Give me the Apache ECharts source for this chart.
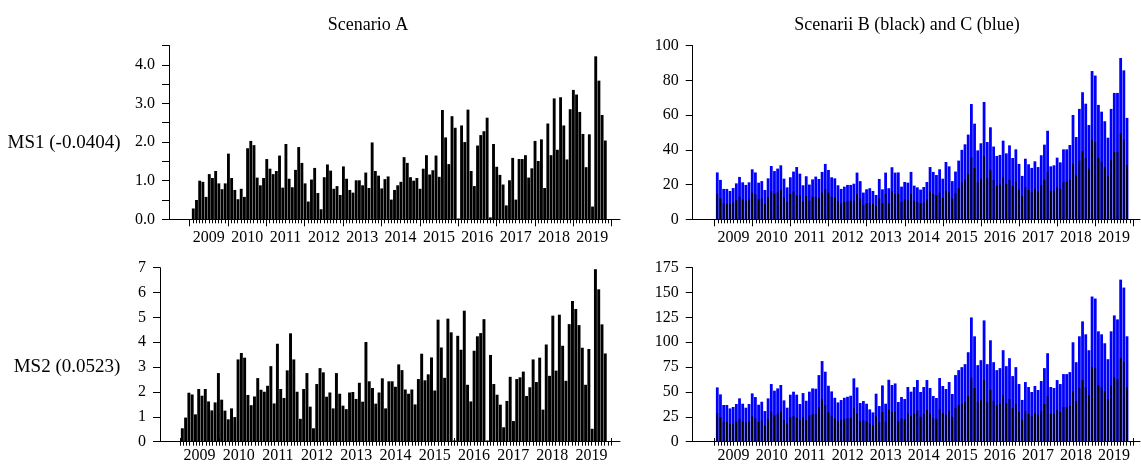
<!DOCTYPE html>
<html><head><meta charset="utf-8">
<script src="https://cdn.jsdelivr.net/npm/echarts@6/dist/echarts.min.js"></script>
<style>html,body{margin:0;padding:0;background:#fff}#c{width:1141px;height:464px}</style>
</head><body><div id="c"></div>
<script>
const years = ['2009','2010','2011','2012','2013','2014','2015','2016','2017','2018','2019'];
const months = [];
for (let i = 0; i < 130; i++) { months.push(years[Math.floor(i / 12)] + '-' + String(i % 12 + 1).padStart(2, '0')); }
const allMonths = [];
for (let i = 0; i < years.length * 12; i++) { allMonths.push(years[Math.floor(i / 12)] + '-' + String(i % 12 + 1).padStart(2, '0')); }

const scenA_MS1 = [0.28,0.5,1.0,0.97,0.58,1.17,1.07,1.25,0.93,0.78,
0.93,1.7,1.07,0.76,0.52,0.79,0.58,1.84,2.03,1.92,
1.08,0.88,1.07,1.56,1.31,1.17,1.25,1.65,0.82,1.95,
1.05,0.83,1.28,1.87,1.46,0.93,0.46,1.03,1.33,0.68,
0.26,1.09,1.42,1.26,0.79,0.86,0.63,1.37,1.05,0.76,
0.69,1.01,1.01,0.88,1.21,0.81,1.99,1.25,1.13,0.80,
1.04,1.11,0.51,0.76,0.88,0.97,1.61,1.46,1.09,1.0,
1.07,0.79,1.31,1.66,1.16,1.27,1.65,1.1,2.83,2.12,
1.43,2.67,2.37,0.02,2.43,2.0,2.84,1.25,0.86,1.91,
2.18,2.28,2.63,0.05,1.95,1.36,1.15,0.9,0.36,1.01,
1.59,0.51,1.56,1.56,1.66,1.08,1.32,2.03,1.51,2.07,
0.81,2.48,1.66,3.13,1.8,3.16,2.43,1.55,2.85,3.35,
3.23,2.78,2.21,1.35,2.2,0.33,4.22,3.59,2.7,2.04];

const scenA_MS2 = [0.54,0.97,1.97,1.9,1.1,2.12,1.85,2.12,1.62,1.26,
1.58,2.76,1.69,1.25,0.9,1.34,0.99,3.31,3.57,3.38,
1.88,1.47,1.82,2.56,2.09,2.01,2.25,3.04,1.54,3.94,
2.12,1.76,2.87,4.36,3.31,2.01,0.92,2.12,2.76,1.41,
0.54,2.32,2.96,2.79,1.81,1.98,1.34,2.76,1.93,1.45,
1.31,1.98,2.0,1.72,2.37,1.61,4.01,2.43,2.16,1.53,
1.98,2.55,1.34,2.43,2.43,2.21,3.11,2.88,2.1,1.93,
2.1,1.5,2.52,3.54,2.47,2.71,3.39,2.06,4.91,3.79,
2.57,4.95,4.4,0.05,4.26,3.7,5.27,2.29,1.62,3.66,
4.24,4.37,4.93,0.05,3.49,2.32,1.89,1.49,0.58,1.64,
2.61,0.83,2.52,2.59,2.82,1.84,2.19,3.31,2.4,3.38,
1.29,3.91,2.65,5.07,2.86,5.11,3.86,2.45,4.73,5.66,
5.34,4.69,3.78,2.29,3.73,0.52,6.94,6.13,4.72,3.55];

const scenB_MS1 = [14.6,12,9.2,9.2,8.8,9.8,11,13,11.5,10.8,
11.5,15.4,14.4,11.5,12,9,12.7,16.3,15,15.6,
16.9,12.7,10,14.6,16,14,14,10.4,13.4,10.8,
13,13,12.3,15.4,17.5,15.4,13,12.7,10.4,9.2,
10,10.4,10.8,10.8,14.6,12,8.4,9.4,9.4,8.8,
7.7,12.1,9.4,14.6,9.4,16,14.6,14.6,10,11.5,
11.1,14.6,10.8,10,9.2,9.6,11.5,16,14.6,14,
15.4,12.3,16.5,15.7,12,15,18,21.1,23,26,
35.7,29.6,21.3,23.4,36.3,23.8,28.6,22.7,19.6,20,
24.6,20.4,22.7,19.2,21.5,17.1,13.4,18.6,16.9,15.7,
17.7,16,19.8,22.8,27.3,16.5,16.5,18.8,17.7,21.5,
21.7,22.7,32,25.2,33.8,39.2,35.3,29.2,45.7,44.5,
35.3,33,30.1,25,34.2,38.8,38.8,49.7,46.1,31.3];

const scenC_MS1 = [27,22.7,17.5,17.5,16.3,18,20.7,24.4,21.3,19.8,
21.3,28.8,27,21.1,22,16.9,23.6,30.7,27.8,29.2,
31.1,23.4,18.4,24.2,27.5,30.1,26.3,19.6,24.8,20,
23,24.6,23.2,27.3,31.9,28.4,24.2,23.6,19.6,17.5,
18.8,19.8,19.8,20.5,26.9,22,15.4,17.3,17.9,16.3,
14,23.2,17.3,26.9,17.9,30,26.9,27,18.8,21.5,
21.1,27.3,19.4,18.4,17.1,18.6,21.5,30.1,27.3,25.5,
28.8,23.4,33,30.5,22,27.5,33.8,40,43.2,48.8,
66.4,55.1,39.7,43.8,67.6,44.5,53,41.9,36.5,37.1,
45.3,38,42.6,35.3,40.3,31.9,25,34.9,31.7,29.6,
33.4,30.1,36.9,43,51,30.5,31.1,35.5,32.8,40.3,
40.3,42.8,60.1,47.4,63.6,73.2,66.6,54.3,85.4,82.8,
65.9,62,56.5,47,63.6,72.8,72.8,92.9,85.8,58.4];

const scenB_MS2 = [28.8,24.8,20.1,20.1,18.1,18.1,20.8,23.1,20.8,19.4,
20.8,25.5,23.5,19.8,21.4,16.1,23.1,30.8,26.5,28.2,
30.2,21.8,18.4,24.8,25.8,24.1,21.8,25.1,21.8,26.5,
27.5,28.2,34.9,42.9,36.9,29.5,26.1,23.5,20.8,22.1,
22.8,23.5,24.1,33.8,28.5,20.8,21.4,20.4,18.1,16.8,
25.5,19.4,29.8,20.1,32.2,29.8,30.2,20.8,23.5,22.8,
28.5,26.1,28.5,31.5,25,28,32,28,24,23,
33,29,27,31,25,34,37,38,40,46,
64,54,40,42,62,40,52,41,37,38,
47,39,43,34,38,30,22,31,28,26,
29,27,31,38,46,28,28,32,30,35,
35,36,51,41,54,62,55,47,75,74,
57,55,51,43,57,65,63,84,80,55];

const scenC_MS2 = [54.6,47.6,36.9,36.9,33.5,34.9,37.9,43.6,38.2,34.2,
37.9,48.6,44.9,37.2,40.2,30.8,43.6,58,51.3,53.6,
57,41.6,34.2,47.3,50.3,47.3,37.9,48.9,41.2,50.3,
53.6,53.3,67,81.1,70.4,56.3,50.6,44.2,39.5,41.9,
44.2,45.2,46.2,63.7,54.6,38.9,40.9,38.2,32.5,29.5,
48.3,35.9,56.6,38.2,62.3,57,58.6,39.9,44.9,42.9,
55,50.3,55,62,50,55,62,54,46,44,
64,56,53,60,48,67,72,75,78,90,
125,106,77,82,122,78,102,80,72,74,
92,76,84,66,75,58,42,60,55,50,
56,52,61,74,89,55,54,62,58,68,
68,70,100,80,106,121,108,92,146,144,
111,108,99,83,111,127,123,163,155,106];

const FONT = '"Liberation Serif", "Times New Roman", serif';
const txt = { fontFamily: FONT, color: '#000', fontSize: 16 };

const panels = [
  { yx: 169, xEnd: 620, barL: 191.7, barR: 606.9, yrL: 189.7, yrR: 611.5, top: 45.5, bot: 219.3,
    max: 4.5, interval: 0.5, fmt: v => (Math.abs(v - Math.round(v)) < 1e-9 ? v.toFixed(1) : ''),
    series: [{ data: scenA_MS1, color: '#000', width: '90%' }] },
  { yx: 160, xEnd: 620, barL: 180.7, barR: 606.9, yrL: 179.8, yrR: 611.2, top: 267.7, bot: 441.7,
    max: 7, interval: 1, fmt: v => String(v),
    series: [{ data: scenA_MS2, color: '#000', width: '90%' }] },
  { yx: 692.7, xEnd: 1140, barL: 715.7, barR: 1128.6, yrL: 714.6, yrR: 1133, top: 45.7, bot: 219.3,
    max: 100, interval: 20, fmt: v => String(v),
    series: [{ data: scenC_MS1, color: '#0000ff', width: '88%' }, { data: scenB_MS1, color: '#000', width: '55%' }] },
  { yx: 692.7, xEnd: 1140, barL: 715.7, barR: 1128.6, yrL: 714.6, yrR: 1133, top: 267.7, bot: 441.7,
    max: 175, interval: 25, fmt: v => String(v),
    series: [{ data: scenC_MS2, color: '#0000ff', width: '88%' }, { data: scenB_MS2, color: '#000', width: '55%' }] }
];

const option = { animation: false, grid: [], xAxis: [], yAxis: [], series: [], graphic: [] };
const W = 1141, H = 464;

panels.forEach(p => {
  const g = option.grid.length;
  option.grid.push({ left: p.yx, right: W - p.xEnd, top: p.top, bottom: H - p.bot });   // frame
  option.grid.push({ left: p.barL, right: W - p.barR, top: p.top, bottom: H - p.bot }); // bars
  option.grid.push({ left: p.yrL, right: W - p.yrR, top: p.top, bottom: H - p.bot });  // years
  option.grid.push({ left: p.yrL, right: W - p.yrR, top: p.top, bottom: H - p.bot });  // month ticks

  // frame: x axis line + y axis
  option.xAxis.push({ gridIndex: g, type: 'value', min: 0, max: 1,
    axisLine: { show: true, onZero: false, lineStyle: { color: '#000', width: 1 } }, axisTick: { show: false },
    axisLabel: { show: false }, splitLine: { show: false } });
  option.yAxis.push({ gridIndex: g, type: 'value', min: 0, max: p.max, interval: p.interval,
    axisLine: { show: true, lineStyle: { color: '#000', width: 1 } },
    axisTick: { show: true, length: 7, lineStyle: { color: '#000', width: 1 } },
    axisLabel: Object.assign({ margin: 14, formatter: p.fmt }, txt), splitLine: { show: false } });

  // bars grid: one category axis per series so both bar layers are centred on the month
  const yBars = option.yAxis.length;
  option.yAxis.push({ gridIndex: g + 1, type: 'value', min: 0, max: p.max, show: false });
  p.series.forEach((s, k) => {
    const xi = option.xAxis.length;
    option.xAxis.push({ gridIndex: g + 1, type: 'category', data: months, show: false });
    option.series.push({ type: 'bar', xAxisIndex: xi, yAxisIndex: yBars, data: s.data,
      barWidth: s.width, itemStyle: { color: s.color }, z: 2 + k, silent: true });
  });

  // years grid: year ticks and centred year labels
  option.xAxis.push({ gridIndex: g + 2, type: 'category', data: years,
    axisLine: { show: false }, splitLine: { show: false },
    axisTick: { show: true, length: 7, interval: 0, lineStyle: { color: '#000', width: 1 } },
    axisLabel: Object.assign({ margin: 10, interval: 0 }, txt) });
  option.yAxis.push({ gridIndex: g + 2, type: 'value', min: 0, max: p.max, show: false });

  // month ticks grid
  option.xAxis.push({ gridIndex: g + 3, type: 'category', data: allMonths,
    axisLine: { show: false }, splitLine: { show: false },
    axisTick: { show: true, inside: false, length: 4, interval: 0, lineStyle: { color: '#000', width: 1 } },
    axisLabel: { show: false } });
  option.yAxis.push({ gridIndex: g + 3, type: 'value', min: 0, max: p.max, show: false });
});

const titleStyle = { font: '18px ' + FONT, fill: '#000', textAlign: 'center', textVerticalAlign: 'middle' };
const rowStyle = { font: '19px ' + FONT, fill: '#000', textAlign: 'center', textVerticalAlign: 'middle' };
option.graphic = [
  { type: 'text', x: 368, y: 25, style: Object.assign({ text: 'Scenario A' }, titleStyle) },
  { type: 'text', x: 907, y: 25, style: Object.assign({ text: 'Scenarii B (black) and C (blue)' }, titleStyle) },
  { type: 'text', x: 64, y: 143, style: Object.assign({ text: 'MS1 (-0.0404)' }, rowStyle) },
  { type: 'text', x: 67, y: 367, style: Object.assign({ text: 'MS2 (0.0523)' }, rowStyle) }
];

const chart = echarts.init(document.getElementById('c'), null, { renderer: 'canvas' });
chart.setOption(option);
</script>
</body></html>
